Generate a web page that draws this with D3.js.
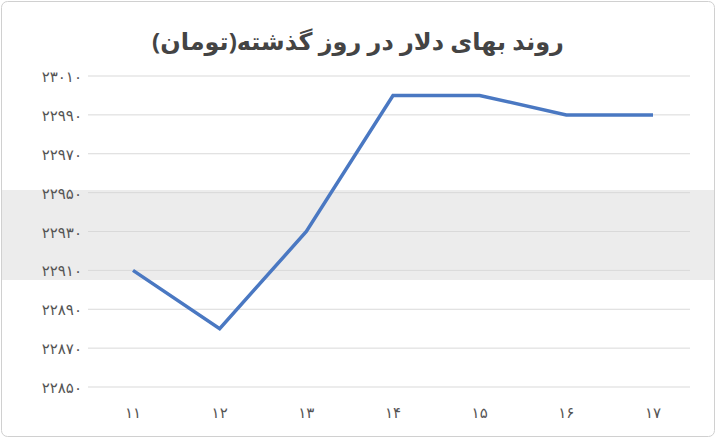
<!DOCTYPE html>
<html><head><meta charset="utf-8">
<script src="https://cdn.jsdelivr.net/npm/d3@7"></script>
<style>body{margin:0;background:#fff}</style></head>
<body><svg id="c" width="716" height="438"></svg>
<script>
const categories=["11","12","13","14","15","16","17"];
const values=[22910,22880,22930,23000,23000,22990,22990];
const yTicks=[22850,22870,22890,22910,22930,22950,22970,22990,23010];
const title="روند بهای دلار در روز گذشته(تومان)";
const fa=s=>String(s).replace(/\d/g,d=>"۰۱۲۳۴۵۶۷۸۹"[d]);
const svg=d3.select("#c");
svg.append("rect").attr("x",1.5).attr("y",1.5).attr("width",713).attr("height",435).attr("rx",6).attr("fill","#fff").attr("stroke","#d0d0d0");
svg.append("rect").attr("x",2).attr("y",190).attr("width",712).attr("height",90).attr("fill","#ececec");
const x=d3.scalePoint().domain(categories).range([133,653]);
const y=d3.scaleLinear().domain([22850,23010]).range([387,76]);
svg.append("g").selectAll("line").data(yTicks).join("line")
 .attr("x1",88).attr("x2",690).attr("y1",d=>y(d)).attr("y2",d=>y(d)).attr("stroke","#d9d9d9");
svg.append("g").selectAll("text").data(yTicks).join("text")
 .attr("x",82).attr("y",d=>y(d)+6).attr("text-anchor","end").attr("font-family","Noto Sans, DejaVu Sans").attr("font-size",15).attr("fill","#555").text(d=>fa(d));
svg.append("g").selectAll("text").data(categories).join("text")
 .attr("x",d=>x(d)).attr("y",418).attr("text-anchor","middle").attr("font-family","Noto Sans, DejaVu Sans").attr("font-size",15).attr("fill","#555").text(d=>fa(d));
svg.append("path").datum(values).attr("fill","none").attr("stroke","#4a78c2").attr("stroke-width",3.5)
 .attr("d",d3.line().x((d,i)=>x(categories[i])).y(d=>y(d)));
svg.append("text").attr("x",358).attr("y",50).attr("text-anchor","middle").attr("font-family","Noto Sans, DejaVu Sans").attr("font-weight","bold").attr("font-size",24).attr("fill","#444").attr("direction","rtl").text(title);
</script></body></html>
